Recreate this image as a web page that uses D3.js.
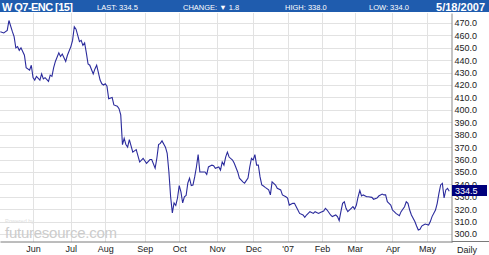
<!DOCTYPE html>
<html>
<head>
<meta charset="utf-8">
<script src="https://cdnjs.cloudflare.com/ajax/libs/d3/7.8.5/d3.min.js"></script>
<style>
  body { margin: 0; background: #fff; }
  svg text { font-family: "Liberation Sans", Arial, sans-serif; }
</style>
</head>
<body>
<div id="chart"></div>
<script>
(function () {

  // daily closes (date, price)
  var closes = [
    ["2006-05-04",463],["2006-05-08",462],["2006-05-10",464],["2006-05-11",472],["2006-05-15",463],
    ["2006-05-16",459],["2006-05-17",450],["2006-05-18",451],["2006-05-19",448],["2006-05-22",450],
    ["2006-05-24",444],["2006-05-25",434],["2006-05-30",432],["2006-05-31",436],["2006-06-01",426],
    ["2006-06-02",424],["2006-06-05",427],["2006-06-07",424],["2006-06-08",429],["2006-06-09",425],
    ["2006-06-12",426],["2006-06-14",423],["2006-06-15",428],["2006-06-16",427],["2006-06-19",434],
    ["2006-06-20",439],["2006-06-22",446],["2006-06-23",443],["2006-06-26",445],["2006-06-27",442],
    ["2006-06-28",439],["2006-06-29",444],["2006-07-03",451],["2006-07-05",456],["2006-07-06",467],
    ["2006-07-07",465],["2006-07-10",460],["2006-07-11",455],["2006-07-12",456],["2006-07-13",452],
    ["2006-07-14",454],["2006-07-17",446],["2006-07-18",437],["2006-07-19",436],["2006-07-21",429],
    ["2006-07-24",433],["2006-07-25",436],["2006-07-27",424],["2006-07-28",421],["2006-07-31",420],
    ["2006-08-01",421],["2006-08-02",419],["2006-08-03",409],["2006-08-07",410],["2006-08-08",404],
    ["2006-08-10",403],["2006-08-11",401],["2006-08-14",396],["2006-08-15",372],["2006-08-16",377],
    ["2006-08-17",372],["2006-08-18",370],["2006-08-21",376],["2006-08-23",366],["2006-08-25",368],
    ["2006-08-29",358],["2006-08-31",361],["2006-09-05",357],["2006-09-07",360],["2006-09-08",360],
    ["2006-09-12",353],["2006-09-13",361],["2006-09-14",372],["2006-09-15",373],["2006-09-18",375],
    ["2006-09-20",370],["2006-09-21",365],["2006-09-22",350],["2006-09-25",330],["2006-09-26",317],
    ["2006-09-27",325],["2006-09-28",323],["2006-09-29",329],["2006-10-02",339],["2006-10-03",334],
    ["2006-10-04",325],["2006-10-05",330],["2006-10-06",331],["2006-10-09",341],["2006-10-10",345],
    ["2006-10-11",339],["2006-10-12",339.5],["2006-10-13",346],["2006-10-16",354],["2006-10-17",364],
    ["2006-10-18",350],["2006-10-20",350],["2006-10-23",350],["2006-10-24",348],["2006-10-25",354],
    ["2006-10-27",355.5],["2006-10-30",355],["2006-10-31",353],["2006-11-02",354],["2006-11-03",351.5],
    ["2006-11-06",358],["2006-11-07",355.5],["2006-11-08",362],["2006-11-09",366],["2006-11-10",362],
    ["2006-11-14",359.6],["2006-11-15",357],["2006-11-17",350],["2006-11-20",345],["2006-11-22",342],
    ["2006-11-24",341],["2006-11-28",345],["2006-11-29",354],["2006-11-30",361],["2006-12-01",359.6],
    ["2006-12-04",364],["2006-12-05",355.5],["2006-12-06",355.5],["2006-12-07",346],["2006-12-08",339.5],
    ["2006-12-11",338.7],["2006-12-12",337.6],["2006-12-14",335.5],["2006-12-15",331.5],["2006-12-18",342],
    ["2006-12-20",339.5],["2006-12-21",336.8],["2006-12-26",335.5],["2006-12-27",331.5],["2006-12-29",330],
    ["2007-01-03",329],["2007-01-04",323.3],["2007-01-08",324.7],["2007-01-09",324.7],["2007-01-11",319.3],
    ["2007-01-12",316.6],["2007-01-17",315.3],["2007-01-18",313.4],["2007-01-19",315.3],["2007-01-23",318],
    ["2007-01-25",316.6],["2007-01-26",318],["2007-01-30",316.6],["2007-01-31",317.4],["2007-02-02",318.5],
    ["2007-02-05",320.7],["2007-02-06",319.3],["2007-02-08",315.3],["2007-02-09",314],["2007-02-13",315.3],
    ["2007-02-14",314],["2007-02-15",310.8],["2007-02-16",318],["2007-02-20",324.7],["2007-02-21",326],
    ["2007-02-22",320.7],["2007-02-23",318],["2007-02-27",320.7],["2007-02-28",322],["2007-03-01",320],
    ["2007-03-02",323.3],["2007-03-05",330],["2007-03-06",335],["2007-03-07",330.6],["2007-03-08",331.5],
    ["2007-03-12",330],["2007-03-13",330],["2007-03-15",329.5],["2007-03-16",328],["2007-03-20",329],
    ["2007-03-21",330.6],["2007-03-23",332.2],["2007-03-26",331.5],["2007-03-27",331.5],["2007-03-28",326],
    ["2007-03-29",324.7],["2007-03-30",323.3],["2007-04-02",319.3],["2007-04-03",318],["2007-04-04",316.6],
    ["2007-04-09",314.7],["2007-04-10",318],["2007-04-12",322],["2007-04-13",326],["2007-04-16",324.7],
    ["2007-04-17",319.3],["2007-04-18",315.3],["2007-04-19",312.6],["2007-04-20",310],["2007-04-23",306.4],
    ["2007-04-24",303.2],["2007-04-25",303.8],["2007-04-26",306.4],["2007-04-27",307.2],["2007-04-30",308],
    ["2007-05-02",307.2],["2007-05-03",310],["2007-05-04",314],["2007-05-08",319.3],["2007-05-09",324.7],
    ["2007-05-10",332.8],["2007-05-11",339.5],["2007-05-14",340.8],["2007-05-15",329],["2007-05-16",335.5],
    ["2007-05-17",336.8],["2007-05-18",334.5]
  ]

  // exchange closed on these days (no bar on the x axis)
  var holidays = ["2006-05-29", "2006-07-04", "2006-09-04", "2006-11-23", "2006-12-25",
    "2007-01-01", "2007-01-02", "2007-01-15", "2007-02-19", "2007-04-06"]

  var monthLabels = ["Jun", "Jul", "Aug", "Sep", "Oct", "Nov", "Dec", "'07", "Feb", "Mar", "Apr", "May"]
  var yTicks = [300, 310, 320, 330, 340, 350, 360, 370, 380, 390, 400, 410, 420, 430, 440, 450, 460, 470]

  var title = "W Q7-ENC [15]"
  var headerItems = ["LAST: 334.5", "CHANGE: \u25BC 1.8", "HIGH: 338.0", "LOW: 334.0"]
  var headerDate = "5/18/2007"
  var lastPrice = 334.5

  var W = 489, H = 255
  var plotRight = 452, plotTop = 13, plotBottom = 242

  var fmt = d3.timeFormat("%Y-%m-%d")

  // trading calendar: weekdays minus holidays
  var tradingDays = d3.timeDay.range(new Date(2006, 4, 4), new Date(2007, 4, 19))
    .filter(function (d) {
      return d.getDay() !== 0 && d.getDay() !== 6 && holidays.indexOf(fmt(d)) < 0
    })
  var dayIndex = new Map()
  tradingDays.forEach(function (d, i) { dayIndex.set(fmt(d), i) })

  var xPositionScale = d3.scaleLinear()
    .domain([-0.2, 262.6])
    .range([0, plotRight])

  var yPositionScale = d3.scaleLinear()
    .domain([293.55, 478.06])
    .range([plotBottom, plotTop])

  // first trading day of each month
  var monthTicks = d3.timeMonth.range(new Date(2006, 5, 1), new Date(2007, 5, 1))
    .map(function (m) {
      var d = m
      while (!dayIndex.has(fmt(d))) d = d3.timeDay.offset(d, 1)
      return dayIndex.get(fmt(d))
    })

  var svg = d3.select("#chart").append("svg")
    .attr("width", W)
    .attr("height", H)

  svg.append("rect")
    .attr("width", W).attr("height", H)
    .attr("fill", "#fff")

  // grid
  svg.append("g")
    .selectAll("line")
    .data(yTicks)
    .enter().append("line")
    .attr("x1", 0).attr("x2", plotRight)
    .attr("y1", function (d) { return Math.round(yPositionScale(d)) + 0.5 })
    .attr("y2", function (d) { return Math.round(yPositionScale(d)) + 0.5 })
    .attr("stroke", "#e2e2e2")

  svg.append("g")
    .selectAll("line")
    .data(monthTicks)
    .enter().append("line")
    .attr("x1", function (d) { return Math.round(xPositionScale(d)) + 0.5 })
    .attr("x2", function (d) { return Math.round(xPositionScale(d)) + 0.5 })
    .attr("y1", plotTop).attr("y2", plotBottom)
    .attr("stroke", "#e2e2e2")

  // watermark
  svg.append("text")
    .attr("x", 5).attr("y", 223)
    .attr("font-size", 5.5)
    .attr("fill", "#e0e0e0")
    .text("Powered by")
  svg.append("text")
    .attr("x", 5).attr("y", 238)
    .attr("font-size", 15)
    .attr("textLength", 112)
    .attr("fill", "#cccccc")
    .text("futuresource.com")

  // price line
  var line = d3.line()
    .x(function (d) { return xPositionScale(dayIndex.get(d[0])) })
    .y(function (d) { return yPositionScale(d[1]) })

  svg.append("path")
    .datum(closes)
    .attr("d", line)
    .attr("fill", "none")
    .attr("stroke", "#2b2b9c")
    .attr("stroke-width", 1.1)

  // right axis
  var yAxis = d3.axisRight(yPositionScale)
    .tickValues(yTicks)
    .tickFormat(d3.format(".1f"))
    .tickSize(0)
    .tickSizeOuter(0)
    .tickPadding(3)
  var yg = svg.append("g")
    .attr("class", "axis y-axis")
    .attr("transform", "translate(" + (plotRight - 0.5) + ",0)")
    .call(yAxis)
  yg.select(".domain").attr("stroke", "#8a8a8a")
  yg.selectAll("text")
    .attr("font-size", 9)
    .attr("font-family", "Liberation Sans, Arial, sans-serif")
    .attr("fill", "#222")

  // bottom axis
  var xAxis = d3.axisBottom(xPositionScale)
    .tickValues(monthTicks)
    .tickFormat(function (d, i) { return monthLabels[i] })
    .tickSize(0)
    .tickSizeOuter(0)
    .tickPadding(4)
  var xg = svg.append("g")
    .attr("class", "axis x-axis")
    .attr("transform", "translate(0," + (plotBottom - 0.5) + ")")
    .call(xAxis)
  xg.select(".domain").attr("stroke", "#7a7a7a")
  xg.selectAll("text")
    .attr("font-size", 9)
    .attr("font-family", "Liberation Sans, Arial, sans-serif")
    .attr("fill", "#222")

  svg.append("line")
    .attr("x1", plotRight).attr("x2", W)
    .attr("y1", plotBottom - 0.5).attr("y2", plotBottom - 0.5)
    .attr("stroke", "#7a7a7a")

  svg.append("text")
    .attr("x", 467).attr("y", 253)
    .attr("text-anchor", "middle")
    .attr("font-size", 9)
    .attr("fill", "#222")
    .text("Daily")

  // last price tag
  var ly = yPositionScale(lastPrice)
  svg.append("rect")
    .attr("x", plotRight).attr("y", Math.round(ly) - 6)
    .attr("width", 35).attr("height", 11)
    .attr("fill", "#00007c")
  svg.append("text")
    .attr("x", plotRight + 3).attr("y", Math.round(ly) + 3)
    .attr("font-size", 9)
    .attr("fill", "#fff")
    .text(d3.format(".1f")(lastPrice))

  // header bar
  svg.append("rect")
    .attr("width", W).attr("height", 12)
    .attr("fill", "#1f5cae")

  svg.append("text")
    .attr("x", 2).attr("y", 11)
    .attr("font-size", 11)
    .attr("font-weight", "bold")
    .attr("textLength", 71)
    .attr("fill", "#fff")
    .text(title)

  var headerX = [97, 183, 285, 369]
  svg.selectAll(".hdr")
    .data(headerItems)
    .enter().append("text")
    .attr("class", "hdr")
    .attr("x", function (d, i) { return headerX[i] })
    .attr("y", 9.5)
    .attr("font-size", 7.5)
    .attr("font-family", "DejaVu Sans, Verdana, sans-serif")
    .attr("fill", "#fff")
    .text(function (d) { return d })

  svg.append("text")
    .attr("x", 485).attr("y", 11)
    .attr("text-anchor", "end")
    .attr("font-size", 11)
    .attr("font-weight", "bold")
    .attr("fill", "#fff")
    .text(headerDate)

})()
</script>
</body>
</html>
